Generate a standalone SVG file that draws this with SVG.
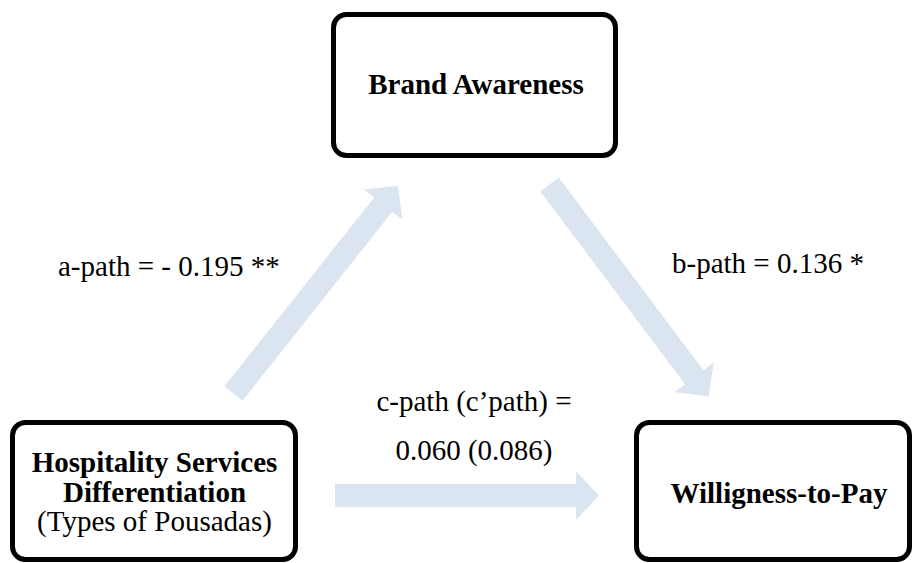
<svg xmlns="http://www.w3.org/2000/svg" width="913" height="563" viewBox="0 0 913 563" font-family="'Liberation Serif', 'DejaVu Serif', serif">
  <defs>
    <style>
      .box { fill: #ffffff; stroke: #000000; stroke-width: 5; }
      .arrow { fill: #DBE4F1; stroke: none; }
      .lbl { font-family: 'Liberation Serif', 'DejaVu Serif', serif; font-size: 29px; fill: #000000; }
      .bold { font-weight: bold; }
      .mid { text-anchor: middle; }
    </style>
    <!-- block arrow pointing along +x, tail at origin -->
    <polygon id="blockArrow" points="0,-11.5 241,-11.5 241,-24.5 265,0 241,24.5 241,11.5 0,11.5"/>
  </defs>
  <rect width="913" height="563" fill="#ffffff"/>

  <g id="connectors">
    <use href="#blockArrow" class="arrow" transform="translate(233.5,393.5) rotate(-51.6)"/>
    <use href="#blockArrow" class="arrow" transform="translate(549.5,184.5) rotate(53.1)"/>
    <polygon class="arrow" points="335,484 576,484 576,471 599,495.5 576,520 576,507 335,507"/>
    <text class="lbl" x="58" y="276">a-path = - 0.195 **</text>
    <text class="lbl" x="672" y="273">b-path = 0.136 *</text>
    <text class="lbl mid" x="474" y="411">c-path (c’path) =</text>
    <text class="lbl mid" x="474" y="460">0.060 (0.086)</text>
  </g>

  <g id="brand-awareness">
    <rect class="box" x="333.5" y="14.5" width="282" height="141" rx="13"/>
    <text class="lbl bold mid" x="476" y="94">Brand Awareness</text>
  </g>

  <g id="hospitality-services">
    <rect class="box" x="12.5" y="422.5" width="283" height="137" rx="13"/>
    <text class="lbl bold mid" x="154.5" y="472">Hospitality Services</text>
    <text class="lbl bold mid" x="154.5" y="502">Differentiation</text>
    <text class="lbl mid" x="154.5" y="531">(Types of Pousadas)</text>
  </g>

  <g id="willingness-to-pay">
    <rect class="box" x="636.5" y="422.5" width="273" height="137" rx="13"/>
    <text class="lbl bold mid" x="779" y="503">Willigness-to-Pay</text>
  </g>
</svg>
